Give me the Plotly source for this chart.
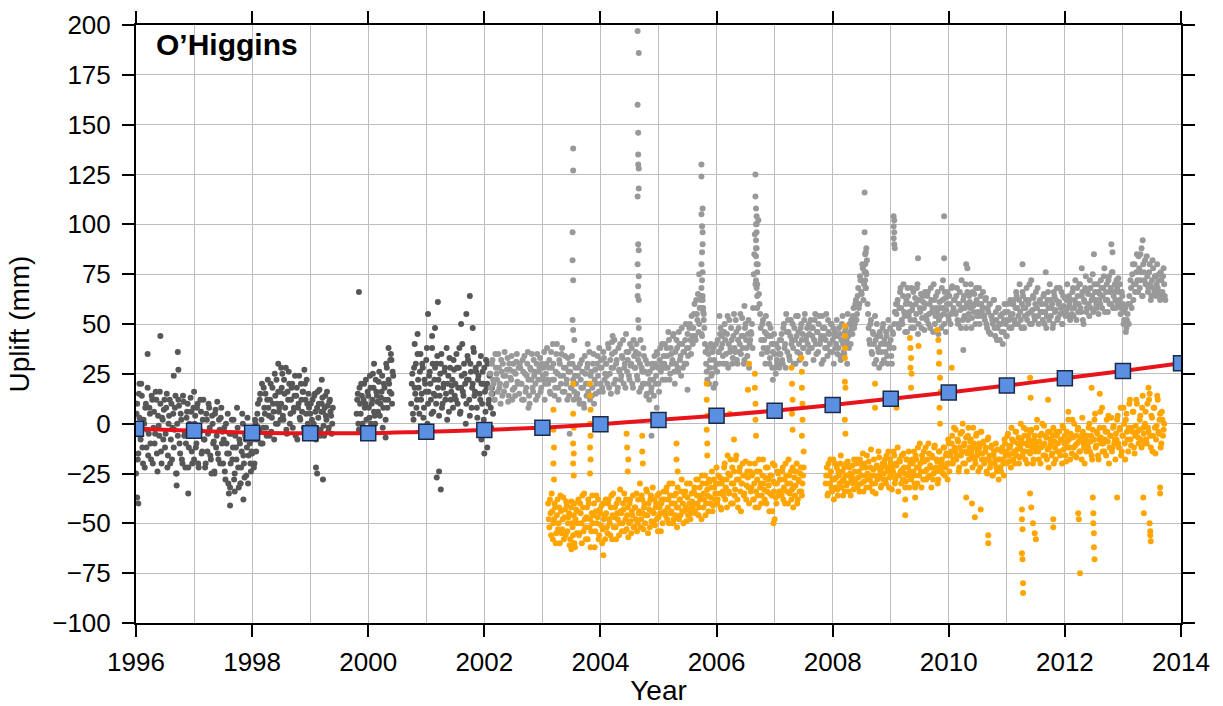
import numpy as np
import plotly.graph_objects as go

# ---------------- data ----------------
STEP = 0.02  # sampling interval of each typed series (years)

# Dark grey series (older station): two interleaved sample sets
dark_start = 1996.00
dark_uplift = (
    [-25, 10, -15, 3, -8, 14, -20, 0, 8, -12, 18, -5, 5, -18, 12, -2, -10, 16, -15, 4, -6, 10, -20, 2, 7]
    + [-12, 8, -22, 0, 12, -8, -18, 5, -3, 14, -25, -6, 9, -15, 2, -20, 11, -4, -10, 6, -22, 0, 13, -14, -2]
    + [-18, 4, -10, 10, -22, -3, 6, -14, 12, -8, -20, 2, -5, 8, -16, -25, 0, -9, 5, -12, 11, -18, -3, 3, -10]
    + [-20, -2, -28, -10, 5, -15, -32, -5, -18, 2, -25, -12, 8, -22, -8, -30, -14, 0, -20, -6, -26, 3, -16, -10, -24]
    + [-15, -5, -20, 0, -8, 10, -4, 15, 2, -10, 18, 5, -2, 12, 8, -6, 20, 3, 10, -8, 14, 22, 0, 6, 16]
    + [10, 25, 2, 15, 28, -5, 12, 20, 5, 18, -2, 8, 24, 14, -8, 10, 3, 20, 6, 16, -4, 12, 22, 0, 8]
    + [5, -5, 12, 0, 15, -8, 8, 3, 17, -3, 10, 6, -6, 14, 2, 9, -2, 12, 4, 0]
    + [None] * 20
    + [5, 15, -3, 10, 20, 0, 12, 8, 22, -5, 14, 3, 18, 10, 25, 6, 0, 16, 11, 21, 4, 13, 24, 8, 18, 2, 28, 12, 20, 32, 15, 26]
    + [None] * 15
    + [10, 25, 2, 18, 30, 12, 22, 5, 35, 15, 28, 8, 20, 32, 0, 16, 26, 12, 38, 6, 22, 14, 30, 18, 4, 25, 35, 10, 20, 28, 15, 2, 24, 33, 12, 19, 8, 27]
    + [20, 35, 10, 28, 5, 18, 40, 14, 25, 0, 22, 32, 12, 30, 8, 20, 36, 16, 26, 3, 24, 15, 34, 10, 20, 28, 6, 18, 30, 12, 25, -2, 15]
)
dark_start_b = 1996.01
dark_uplift_b = (
    [5, -18, 15, -6, 20, -12, 2, -22, 10, -3, -16, 8, -10, 14, -20, 6, -5, 12, -24, -1, 16, -14, 3, -8, 12]
    + [-5, 15, -16, 4, -20, 10, -2, -12, 8, -25, 0, 12, -10, 5, -18, 14, -6, -22, 3, 10, -12, -4, 6, -20, 8]
    + [0, -12, 8, -20, -5, 12, -15, 2, -8, -22, 5, -14, 10, -2, -18, 4, -10, -24, 7, -6, -15, 2, -20, 8, -4]
    + [-8, -24, 0, -15, -30, -5, -20, 2, -12, -28, -6, -18, -2, -32, -10, -22, 5, -16, -27, -8, -12, -30, -4, -20, -14]
    + [-8, -22, 2, -14, 5, -3, 12, -10, 20, -2, 8, 15, -6, 22, 4, 12, -4, 18, 6, 25, 0, 10, 16, 8, 2]
    + [18, 4, 22, 8, -3, 16, 26, 0, 12, 20, 6, 14, -6, 18, 8, 24, 2, 12, 16, -2, 20, 5, 10, 15, -5]
    + [10, 2, -4, 14, 6, -2, 16, 10, -6, 6, 13, -1, 8, 4, 16, -4, 11, 6, -5, 8]
    + [None] * 20
    + [12, 0, 18, 5, 14, -4, 20, 10, 2, 16, 8, 24, 0, 12, 18, 4, 22, 14, 6, 26, 10, 16, -2, 20, 12, 30, 8, 22, 16, 35, 10, 24]
    + [None] * 15
    + [20, 5, 28, 15, 8, 35, 18, 26, 12, 30, 3, 22, 16, 38, 10, 24, 20, 5, 30, 15, 28, 10, 34, 22, 14, 30, 8, 18, 26, 12, 38, 20, 6, 28, 16, 22, 32, 14]
    + [12, 28, 18, 38, 6, 24, 16, 30, 20, 10, 34, 22, 4, 26, 18, 38, 14, 28, 8, 22, 30, 12, 20, 26, 2, 16, 32, 20, 10, 24, 8, 18, 5]
)
dark_out_year = [1996.02, 1996.04, 1996.06, 1996.20, 1996.42, 1996.72, 1996.73, 1996.65, 1996.70, 1996.90,
                 1997.35, 1997.60, 1997.62, 1997.70, 1997.80, 1997.85, 1998.45, 1998.50, 1998.90, 1999.20,
                 1999.10, 1999.12, 1999.22, 1999.84, 2000.10, 2000.30, 2000.35, 2000.40, 2000.85, 2001.03,
                 2001.10, 2001.20, 2001.15, 2001.60, 2001.69, 2001.75, 2001.80, 2001.18, 2001.22, 2001.25,
                 2001.95, 2002.00, 2002.05, 1997.00, 2000.80]
dark_out_uplift = [-37, -40, 20, 35, 44, 36, 27, 24, -31, -35,
                   -25, -35, -41, -34, -30, -38, 30, 28, 27, 22,
                   -22, -25, -28, 66, 30, -7, 38, 32, 45, 55,
                   44, 61, 48, 50, 55, 64, 48, -27, -24, -33,
                   -8, -15, -12, 16, 40]

# Light grey series (newer station)
light_start = 2002.10
light_uplift = (
    [25, 15, 32, 20, 12, 28, 22, 35, 18, 10, 26, 30, 16, 24, 20, 33, 14, 27, 22, 12, 30, 18, 25, 35, 20]
    + [15, 28, 20, 32, 12, 25, 18, 30, 22, 10, 27, 35, 16, 24, 20, 30, 14, 26, 33, 18, 22, 28, 12, 25, 38]
    + [20, 32, 15, 28, 40, 22, 18, 35, 25, 12, 30, 20, 38, 24, 16, 28, 22, 33, 14, 26, 18, 30, 12, 24, 20]
    + [15, 28, 10, 22, 32, 18, 8, 25, 14, 30, 20, 12, 26, 18, 35, 22, 15, 30, 24, 38, 20, 28, 16, 33, 25]
    + [30, 20, 38, 25, 15, 35, 28, 42, 22, 32, 18, 27, 40, 24, 33, 20, 30, 45, 26, 36, 22, 29, 38, 18, 34]
    + [28, 40, 22, 35, 30, 18, 26, 38, 20, 32, 15, 25, 12, 22, 18, 28, 14, 30, 24, 35, 20, 32, 26, 40, 28]
    + [30, 22, 38, 28, 42, 25, 35, 32, 45, 20, 30, 38, 26, 40, 34, 48, 28, 36, 42, 30, 45, 38, 50, 35, 44]
    + [48, 60, 42, 55, 65, 50, 58, 45, 62, 52, 40, 30, 22, 35, 28, 40, 25, 38, 32, 20, 30, 42, 36, 45, 38]
    + [40, 30, 50, 35, 45, 28, 52, 38, 42, 33, 55, 36, 46, 30, 48, 40, 35, 53, 44, 32, 50, 38, 45, 28, 42]
    + [45, 38, 75, 95, 88, 70, 102, 60, 48, 35, 52, 42, 30, 45, 38, 50, 33, 44, 28, 40, 35, 25, 32, 38, 28]
    + [35, 45, 30, 50, 40, 55, 36, 46, 32, 52, 42, 38, 48, 30, 44, 54, 40, 35, 50, 45, 38, 55, 42, 48, 36]
    + [45, 52, 38, 48, 42, 55, 35, 46, 50, 40, 44, 54, 32, 48, 42, 38, 52, 45, 36, 50, 42, 30, 46, 40, 35]
    + [38, 45, 32, 50, 40, 35, 48, 42, 55, 38, 46, 52, 45, 58, 50, 62, 55, 68, 60, 72, 65, 78, 70, 85, 75]
    + [60, 48, 40, 52, 35, 45, 30, 42, 50, 38, 28, 44, 36, 48, 32, 40, 46, 34, 52, 38, 42, 30, 45, 50, 56]
    + [55, 62, 48, 66, 58, 50, 70, 54, 60, 46, 64, 56, 52, 68, 59, 48, 63, 55, 70, 50, 58, 65, 53, 61, 47]
    + [60, 52, 66, 55, 48, 62, 58, 70, 50, 64, 56, 45, 61, 54, 68, 58, 50, 63, 57, 66, 52, 60, 55, 69, 58]
    + [62, 55, 68, 50, 60, 57, 72, 52, 64, 58, 48, 66, 55, 61, 70, 53, 59, 65, 50, 62, 56, 68, 54, 60, 58]
    + [58, 52, 63, 48, 56, 60, 45, 54, 50, 62, 44, 52, 48, 58, 42, 50, 55, 46, 60, 50, 44, 56, 52, 62, 48]
    + [55, 62, 50, 66, 58, 54, 70, 52, 60, 64, 48, 58, 68, 55, 62, 50, 72, 57, 63, 52, 66, 58, 54, 61, 56]
    + [60, 52, 65, 56, 48, 62, 58, 70, 54, 60, 50, 64, 57, 68, 53, 61, 55, 66, 50, 59, 63, 56, 70, 54, 60]
    + [62, 55, 68, 58, 72, 52, 64, 60, 70, 56, 66, 50, 61, 74, 58, 65, 54, 68, 62, 75, 57, 66, 60, 70, 55]
    + [65, 72, 58, 68, 78, 62, 70, 56, 74, 66, 60, 76, 64, 70, 58, 68, 73, 62, 55, 66, 60, 52, 58, 48, 55]
    + [50, 60, 68, 75, 62, 80, 70, 85, 66, 78, 72, 88, 64, 76, 82, 70, 74, 68, 80, 62, 72, 78, 66, 74, 70]
    + [68, 75, 62, 72, 66, 78, 64]
)
light_start_b = 2002.11
light_uplift_b = (
    [18, 30, 22, 12, 35, 25, 16, 28, 20, 32, 14, 24, 36, 19, 27, 11, 30, 23, 34, 17, 26, 14, 31, 21, 28]
    + [30, 20, 12, 26, 34, 16, 24, 36, 14, 28, 22, 18, 32, 26, 12, 35, 22, 28, 16, 30, 24, 36, 20, 30, 22]
    + [28, 16, 36, 22, 30, 14, 26, 40, 18, 32, 24, 35, 16, 28, 34, 20, 12, 26, 30, 18, 34, 22, 16, 28, 14]
    + [24, 12, 30, 18, 26, 10, 34, 20, 28, 16, 36, 24, 14, 30, 10, 27, 20, 34, 16, 28, 32, 18, 36, 22, 30]
    + [24, 40, 18, 32, 28, 44, 20, 36, 30, 16, 38, 26, 22, 34, 42, 28, 18, 36, 32, 24, 40, 30, 20, 42, 28]
    + [36, 24, 32, 16, 42, 28, 20, 34, 26, 14, 30, 20, 26, 16, 30, 22, 34, 20, 36, 28, 16, 38, 30, 22, 34]
    + [40, 28, 34, 46, 22, 38, 30, 44, 26, 36, 42, 28, 46, 32, 24, 40, 36, 30, 50, 38, 34, 48, 42, 54, 40]
    + [55, 44, 62, 52, 46, 58, 64, 44, 56, 48, 36, 26, 38, 20, 32, 24, 36, 18, 28, 40, 26, 36, 30, 48, 44]
    + [34, 46, 42, 30, 54, 40, 36, 48, 30, 44, 38, 52, 32, 42, 36, 55, 44, 38, 30, 48, 42, 34, 52, 40, 46]
    + [50, 58, 85, 70, 100, 80, 65, 55, 42, 50, 38, 46, 54, 36, 44, 30, 48, 40, 36, 45, 28, 40, 30, 35, 42]
    + [42, 32, 48, 38, 28, 46, 52, 34, 44, 40, 50, 30, 42, 54, 36, 46, 32, 48, 42, 38, 52, 30, 44, 40, 50]
    + [38, 48, 44, 32, 52, 40, 46, 36, 54, 42, 30, 48, 44, 38, 55, 34, 46, 40, 50, 36, 48, 44, 38, 52, 44]
    + [48, 34, 42, 54, 36, 46, 40, 30, 44, 50, 40, 48, 54, 48, 60, 52, 64, 58, 74, 66, 80, 62, 76, 68, 82]
    + [55, 42, 50, 36, 46, 40, 54, 32, 44, 36, 46, 40, 30, 50, 42, 36, 44, 30, 40, 48, 34, 46, 38, 56, 60]
    + [60, 50, 58, 68, 52, 64, 56, 46, 62, 68, 54, 60, 48, 57, 66, 52, 60, 68, 45, 62, 56, 48, 64, 58, 66]
    + [54, 64, 50, 60, 68, 56, 46, 62, 54, 58, 66, 52, 58, 48, 62, 55, 66, 46, 60, 54, 64, 50, 68, 56, 62]
    + [56, 64, 52, 60, 66, 48, 58, 62, 54, 70, 60, 52, 64, 58, 48, 66, 56, 60, 68, 54, 60, 50, 64, 56, 66]
    + [54, 62, 50, 58, 46, 60, 54, 52, 62, 48, 56, 42, 58, 50, 54, 46, 40, 52, 56, 44, 60, 52, 48, 54, 60]
    + [60, 52, 58, 64, 50, 62, 56, 48, 66, 58, 54, 62, 52, 60, 70, 56, 50, 64, 54, 60, 58, 68, 50, 62, 56]
    + [56, 64, 50, 60, 54, 66, 52, 62, 58, 48, 66, 56, 62, 52, 60, 68, 58, 50, 64, 56, 54, 62, 58, 64, 52]
    + [58, 66, 54, 62, 60, 68, 56, 70, 58, 64, 52, 62, 68, 56, 66, 60, 72, 58, 64, 56, 70, 62, 58, 66, 62]
    + [60, 68, 64, 74, 56, 66, 62, 72, 60, 68, 76, 58, 66, 62, 72, 60, 66, 70, 58, 64, 50, 56, 46, 52, 60]
    + [64, 72, 58, 80, 70, 66, 76, 72, 84, 68, 76, 64, 80, 72, 70, 84, 66, 76, 70, 64, 82, 68, 74, 64, 80]
    + [72, 66, 76, 64, 74, 70, 62]
)
light_out_year = [2003.53, 2003.53, 2003.52, 2003.52, 2003.53, 2003.52, 2003.53, 2003.55, 2003.78,
                  2004.64, 2004.66, 2004.64, 2004.65, 2004.65, 2004.65, 2004.66, 2004.66, 2004.64,
                  2004.65, 2004.66, 2004.64, 2004.66, 2004.65, 2004.64, 2004.66, 2004.65, 2004.66, 2004.20,
                  2005.74, 2005.74, 2005.76, 2005.74, 2005.75, 2005.76, 2005.76, 2005.75, 2005.74,
                  2005.76, 2005.75, 2005.74, 2005.76, 2005.73, 2005.70, 2005.77, 2005.78,
                  2006.67, 2006.67, 2006.68, 2006.69, 2006.68, 2006.69, 2006.68, 2006.69, 2006.68,
                  2006.69, 2006.70, 2006.68, 2006.69, 2006.70, 2006.70, 2006.48, 2006.05,
                  2008.55, 2008.55, 2008.57, 2008.56, 2008.57, 2008.56, 2008.57, 2008.58,
                  2009.05, 2009.06, 2009.05, 2009.06, 2009.05, 2009.06, 2009.07,
                  2009.47, 2009.92, 2009.92, 2009.90, 2010.30, 2010.32, 2012.80, 2012.82, 2013.34,
                  2013.30, 2012.50, 2012.29, 2011.27, 2011.67, 2010.25,
                  2002.76, 2003.47, 2004.88, 2004.97, 2006.97, 2005.50]
light_out_uplift = [138, 127, 96, 82, 72, 52, 47, 42, 40,
                    197, 186, 160, 146, 135, 130, 128, 118, 114,
                    90, 87, 80, 74, 69, 64, 62, 52, 48, 41,
                    130, 124, 108, 105, 99, 96, 90, 86, 80,
                    76, 72, 68, 64, 62, 75, 58, 55,
                    125, 114, 108, 104, 100, 96, 92, 88, 84,
                    80, 76, 72, 68, 64, 58, 59, 54,
                    116, 96, 86, 80, 76, 72, 68, 88,
                    104, 102, 99, 96, 93, 90, 88,
                    83, 104, 83, 72, 80, 78, 90, 86, 92,
                    85, 85, 78, 80, 76, 37,
                    8, -5, -6, 8, 22, 17]

# Orange series
orange_start = 2003.10
orange_uplift = (
    [-40, -52, -45, -35, -58, -48, -42, -55, -38, -50, -60, -44, -53, -37, -47, -56, -41, -50, -45, -58, -39, -52, -46, -62, -43]
    + [-50, -38, -55, -45, -60, -42, -35, -52, -47, -58, -40, -48, -54, -36, -46, -62, -44, -50, -38, -56, -45, -41, -53, -48, -58]
    + [-45, -55, -38, -50, -42, -58, -35, -47, -52, -40, -48, -56, -33, -45, -50, -43, -54, -38, -46, -57, -40, -49, -44, -36, -52]
    + [-42, -35, -50, -45, -30, -48, -38, -53, -40, -46, -34, -55, -43, -38, -49, -32, -45, -51, -40, -36, -47, -42, -54, -38, -45]
    + [-38, -46, -32, -42, -50, -36, -44, -30, -48, -40, -35, -52, -42, -38, -46, -28, -40, -44, -34, -49, -37, -43, -30, -45, -39]
    + [-40, -32, -45, -36, -28, -42, -38, -48, -30, -35, -26, -40, -33, -44, -29, -37, -24, -41, -32, -35, -22, -38, -30, -27, -43]
    + [-28, -36, -20, -32, -42, -25, -35, -18, -30, -40, -24, -33, -16, -38, -28, -22, -44, -30, -26, -35, -19, -31, -27, -40, -24]
    + [-32, -25, -38, -20, -34, -28, -42, -24, -30, -36, -18, -33, -27, -40, -22, -31, -35, -26, -44, -29, -21, -37, -30, -25, -34]
    + [-28, -36, -22, -32, -40, -26, -30, -18, -35, -24, -33, -42, -27, -31, -20, -38, -29, -25, -34, -30]
    + [None] * 19
    + [-30, -22, -35, -26, -18, -32, -28, -38, -20, -27, -33, -24, -30, -16, -29, -36, -22, -26, -31, -19, -34, -25, -28, -21, -33]
    + [-24, -30, -18, -27, -34, -20, -26, -15, -29, -22, -32, -25, -19, -28, -13, -30, -23, -26, -35, -21, -27, -17, -24, -31, -20]
    + [-25, -18, -30, -22, -14, -27, -20, -33, -24, -16, -28, -21, -12, -26, -19, -30, -23, -15, -25, -29, -18, -22, -32, -20, -26]
    + [-20, -14, -26, -18, -30, -22, -10, -24, -16, -28, -19, -12, -23, -27, -15, -21, -32, -17, -25, -11, -22, -19, -28, -14, -24]
    + [-18, -25, -12, -22, -15, -28, -10, -20, -14, -6, -18, -12, -3, -16, -9, -22, -5, -14, 0, -11, -20, -7, -15, -2, -12]
    + [-8, -16, -2, -12, -20, -5, -14, -10, -22, -4, -15, -9, -18, -12, -25, -7, -16, -20, -11, -26, -14, -18, -22, -13, -28]
    + [-18, -24, -12, -20, -8, -16, -14, -5, -19, -11, -2, -15, -9, -20, -4, -13, -7, -17, 0, -10, -14, -6, -18, -3, -11]
    + [-8, -15, -3, -12, -18, -6, -10, 2, -14, -9, -20, -5, -11, -1, -16, -7, -13, -22, -4, -10, -15, -2, -9, -18, -6]
    + [-10, -4, -16, -8, -1, -13, -6, -19, -9, 2, -12, -5, -15, -7, 0, -11, -17, -3, -9, -14, -6, 3, -10, -20, -8]
    + [-6, -12, 0, -9, -16, -3, -8, 5, -11, -5, -18, -2, -7, 8, -10, -14, -4, 2, -9, -20, -6, 3, -12, -1, -8]
    + [-5, 2, -10, -3, 8, -14, -6, 0, -18, 5, -8, -2, 12, -11, -4, 6, -15, -1, 10, -7, -3, 4, -12, 14, -5]
    + [0, -8, 10, -4, 15, -12, 3, -6, 8, -15, -1, 12, -5, 5, -10, 2, -3]
)
orange_start_b = 2003.11
orange_uplift_b = (
    [-48, -38, -56, -44, -50, -40, -60, -46, -53, -42, -36, -55, -48, -58, -43, -39, -54, -47, -61, -42, -50, -56, -40, -48, -55]
    + [-44, -56, -40, -50, -36, -54, -48, -58, -42, -38, -52, -62, -45, -50, -40, -54, -36, -47, -58, -43, -51, -60, -40, -46, -38]
    + [-52, -40, -48, -56, -36, -46, -52, -42, -58, -45, -38, -50, -44, -54, -40, -35, -48, -53, -42, -50, -38, -55, -46, -52, -42]
    + [-48, -54, -38, -44, -52, -36, -45, -42, -50, -33, -46, -40, -52, -36, -44, -50, -38, -42, -48, -54, -35, -45, -40, -50, -34]
    + [-44, -34, -48, -38, -30, -45, -40, -50, -36, -46, -42, -32, -48, -38, -34, -44, -50, -36, -42, -30, -46, -40, -48, -35, -42]
    + [-34, -44, -28, -40, -46, -32, -36, -26, -42, -38, -46, -30, -36, -28, -40, -32, -44, -28, -38, -30, -40, -26, -35, -42, -30]
    + [-34, -22, -38, -28, -16, -34, -26, -40, -22, -30, -36, -18, -28, -42, -24, -34, -30, -20, -36, -26, -38, -24, -32, -20, -34]
    + [-26, -38, -30, -42, -24, -36, -18, -32, -40, -26, -30, -38, -22, -34, -28, -44, -26, -36, -20, -34, -30, -40, -24, -36, -28]
    + [-34, -24, -38, -28, -20, -34, -40, -26, -30, -38, -22, -32, -36, -24, -40, -28, -34, -22, -36, -26]
    + [None] * 19
    + [-26, -36, -20, -30, -24, -34, -18, -28, -32, -22, -36, -26, -20, -32, -24, -28, -34, -20, -30, -26, -22, -36, -26, -30, -18]
    + [-28, -20, -32, -24, -18, -30, -22, -34, -20, -26, -16, -28, -32, -22, -26, -34, -18, -30, -22, -28, -14, -26, -32, -22, -28]
    + [-20, -28, -16, -24, -32, -18, -26, -22, -14, -30, -20, -26, -34, -18, -24, -16, -28, -22, -32, -18, -26, -14, -24, -28, -18]
    + [-24, -30, -16, -22, -12, -26, -20, -32, -18, -14, -24, -28, -18, -10, -26, -22, -16, -28, -12, -24, -18, -30, -14, -22, -20]
    + [-22, -12, -26, -16, -20, -8, -24, -16, -10, -20, -2, -14, -18, -8, -24, -12, -16, -4, -20, -10, -14, -24, -6, -18, -9]
    + [-14, -22, -10, -18, -6, -16, -24, -12, -4, -18, -10, -20, -14, -24, -8, -18, -22, -12, -26, -16, -20, -10, -24, -18, -22]
    + [-22, -14, -18, -26, -10, -20, -6, -16, -12, -22, -8, -18, -14, -4, -16, -10, -20, -12, -8, -16, -2, -14, -10, -20, -6]
    + [-14, -4, -10, -20, -8, -14, -2, -12, -18, -6, -12, 0, -16, -10, -6, -18, -4, -12, -8, -16, -6, -20, -12, -4, -14]
    + [-4, -14, -8, -20, -2, -10, -16, -4, -12, -8, -18, -6, 2, -12, -16, -6, -10, -2, -14, -8, -18, -4, -12, -6, -14]
    + [-10, -2, -14, -6, -18, -8, 2, -12, -4, -16, -8, 6, -10, -14, -2, -8, -16, -4, 4, -12, -6, -14, -2, -10, -18]
    + [-8, 4, -12, -2, -16, -6, 8, -10, 2, -4, -14, 10, -8, -2, 6, -12, -6, 12, -4, -10, 2, -8, 8, -2, -10]
    + [6, -10, -2, 12, -6, 4, -14, 8, -2, -8, 14, -4, 2, -12, 6, -6, 0]
)
orange_out_year = [2003.19, 2003.19, 2003.20, 2003.19, 2003.20,
                   2003.53, 2003.53, 2003.54, 2003.53, 2003.54, 2003.53, 2003.54,
                   2003.82, 2003.82, 2003.83, 2003.82, 2003.83, 2003.82, 2003.83, 2003.82,
                   2003.50, 2004.05, 2003.55,
                   2004.45, 2004.46, 2004.48, 2004.47, 2004.72, 2004.72, 2004.73,
                   2005.31, 2005.31, 2005.33,
                   2005.83, 2005.83, 2005.84, 2005.83, 2005.84, 2005.84,
                   2006.23, 2006.30, 2006.54, 2006.66, 2006.66, 2006.67, 2006.67, 2006.68, 2006.56,
                   2006.98, 2007.00,
                   2007.29, 2007.30, 2007.31, 2007.30, 2007.31, 2007.46, 2007.47, 2007.47, 2007.48,
                   2007.48, 2007.47, 2007.50, 2007.50,
                   2008.21, 2008.21, 2008.21, 2008.21, 2008.21, 2008.22, 2008.21, 2008.22,
                   2008.73, 2008.73, 2009.10, 2009.10,
                   2009.33, 2009.34, 2009.35, 2009.34, 2009.36, 2009.35, 2009.48,
                   2009.80, 2009.82, 2009.84, 2009.83, 2009.85, 2009.86, 2009.84, 2009.85, 2010.05,
                   2009.25, 2009.25, 2009.42, 2009.42,
                   2010.30, 2010.40, 2010.45, 2010.55, 2010.68, 2010.68,
                   2011.26, 2011.26, 2011.27, 2011.26, 2011.27, 2011.28, 2011.28,
                   2011.40, 2011.42, 2011.45, 2011.48, 2011.50,
                   2011.80, 2011.80, 2012.23, 2012.24, 2012.26,
                   2012.48, 2012.49, 2012.50, 2012.50, 2012.51, 2012.49,
                   2012.90, 2013.35, 2013.36, 2013.46, 2013.47, 2013.48, 2013.47, 2013.64, 2013.64,
                   2011.40, 2011.41, 2011.71, 2012.06, 2012.46, 2012.60, 2013.44]
orange_out_uplift = [7, -3, -12, -20, -28,
                     20, 5, -2, -10, -15, -20, -26,
                     20, 14, 7, 0, -6, -12, -18, -25,
                     -63, -66, -60,
                     -5, -12, -18, -24, -6, -14, -20,
                     -10, -18, -24,
                     20, 12, 4, -3, -10, -16,
                     5, -8, 17, 25, 18, 10, 2, -6, 30,
                     -50, -48,
                     28, 20, 12, 5, -3, 33, 26, 18, 10,
                     2, -6, -14, -22,
                     49, 44, 38, 33, 21, 18, 2, -5,
                     20, 8, 12, 8,
                     43, 38, 33, 28, 25, 18, 39,
                     47, 42, 36, 30, 23, 16, 8, 0, 28,
                     -46, -38, -32, -37,
                     -37, -40, -47, -43, -56, -60,
                     -43, -48, -53, -65, -68, -80, -85,
                     -35, -42, -50, -55, -58,
                     -48, -52, -45, -48, -75,
                     -37, -45, -55, -62, -68, -50,
                     -37, -37, -45, -50, -54, -59, -56, -32, -35,
                     23, 13, 12, 6, 18, 15, 18]

# Model curve and yearly model values (blue squares)
model_year = [1996, 1997, 1998, 1999, 2000, 2001, 2002, 2003, 2004, 2005,
              2006, 2007, 2008, 2009, 2010, 2011, 2012, 2013, 2014]
model_uplift = [-2.5, -3.5, -4.5, -4.8, -4.8, -4.0, -3.2, -2.0, -0.3, 1.9,
                4.0, 6.5, 9.4, 12.5, 15.6, 19.1, 22.8, 26.4, 30.3]

x_ticks = [1996, 1998, 2000, 2002, 2004, 2006, 2008, 2010, 2012, 2014]
y_ticks = [-100, -75, -50, -25, 0, 25, 50, 75, 100, 125, 150, 175, 200]
station_label = "O’Higgins"


def times(start, values):
    return np.round(start + STEP * np.arange(len(values)), 3)


FONT = "Liberation Sans, Arial, Helvetica, sans-serif"
DARK = "#575757"
LIGHT = "#999999"
ORANGE = "#ffa500"
MS = 6

fig = go.Figure()


def dots(x, y, color):
    fig.add_trace(go.Scatter(x=x, y=y, mode="markers",
                             marker=dict(color=color, size=MS, line=dict(width=0)),
                             showlegend=False))


dots(times(dark_start, dark_uplift), dark_uplift, DARK)
dots(times(dark_start_b, dark_uplift_b), dark_uplift_b, DARK)
dots(dark_out_year, dark_out_uplift, DARK)
dots(times(light_start, light_uplift), light_uplift, LIGHT)
dots(times(light_start_b, light_uplift_b), light_uplift_b, LIGHT)
dots(light_out_year, light_out_uplift, LIGHT)
dots(times(orange_start, orange_uplift), orange_uplift, ORANGE)
dots(times(orange_start_b, orange_uplift_b), orange_uplift_b, ORANGE)
dots(orange_out_year, orange_out_uplift, ORANGE)

fig.add_trace(go.Scatter(x=model_year, y=model_uplift, mode="lines",
                         line=dict(color="#e8141c", width=4, shape="spline"), showlegend=False))
fig.add_trace(go.Scatter(x=model_year, y=model_uplift, mode="markers",
                         marker=dict(symbol="square", size=15, color="#5b8fe2",
                                     line=dict(color="#1c2a4a", width=1.5)),
                         showlegend=False))

fig.add_annotation(text=f"<b>{station_label}</b>", xref="paper", yref="paper",
                   x=0.017, y=0.998, xanchor="left", yanchor="top", showarrow=False,
                   font=dict(family=FONT, size=30, color="black"))

axis_common = dict(
    showline=True, linecolor="black", linewidth=2, mirror="allticks",
    ticks="outside", ticklen=12, tickwidth=1.5, tickcolor="black",
    showgrid=True, gridcolor="#bdbdbd", gridwidth=1, zeroline=False,
    tickfont=dict(family=FONT, size=26, color="black"), automargin=False,
)

fig.update_xaxes(range=[1996, 2014], tickmode="array", tickvals=x_ticks,
                 ticktext=[str(v) for v in x_ticks], ticklabelstandoff=3,
                 minor=dict(dtick=1, tick0=1996, showgrid=True, gridcolor="#bdbdbd", ticklen=0),
                 title=dict(text="Year", font=dict(family=FONT, size=28, color="black"), standoff=8),
                 **axis_common)
fig.update_yaxes(range=[-100, 200], tickmode="array", tickvals=y_ticks, ticklabelstandoff=6,
                 title=dict(text="Uplift (mm)", font=dict(family=FONT, size=28, color="black"), standoff=14),
                 **axis_common)

fig.update_layout(width=1223, height=706, margin=dict(l=136, r=42, t=25, b=83),
                  plot_bgcolor="white", paper_bgcolor="white",
                  font=dict(family=FONT, color="black"))

fig.write_html("out.html")
